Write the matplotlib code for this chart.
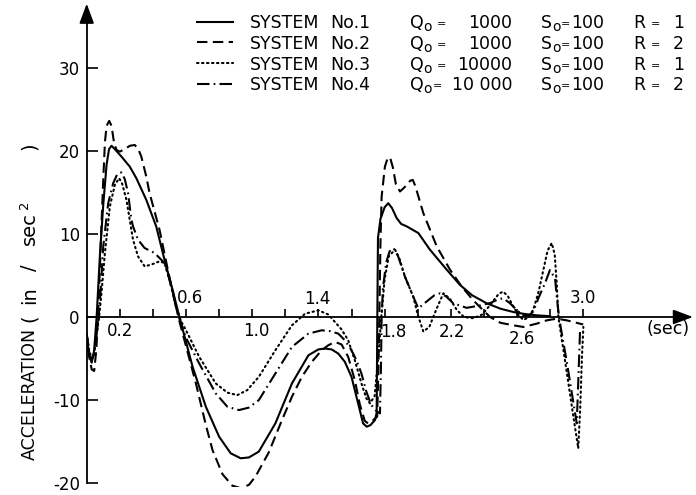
import matplotlib
matplotlib.use("Agg")
import matplotlib.pyplot as plt
from matplotlib.lines import Line2D

plt.rcParams["font.family"] = ["DejaVu Sans"]
plt.rcParams["mathtext.fontset"] = "dejavusans"
plt.rcParams["axes.unicode_minus"] = False

# ---------------- data: acceleration response of four systems ----------------
t1 = [0.00, 0.015, 0.03, 0.045, 0.06, 0.08, 0.10, 0.12, 0.135, 0.15, 0.17, 0.21, 0.26, 0.30, 0.36,
      0.42, 0.47, 0.52, 0.56, 0.60, 0.64, 0.72, 0.80, 0.87, 0.93, 0.98, 1.04, 1.14, 1.24, 1.34,
      1.40, 1.44, 1.48, 1.52, 1.56, 1.60, 1.64, 1.67, 1.692, 1.715, 1.742, 1.752, 1.756, 1.760,
      1.775, 1.80, 1.822, 1.845, 1.873, 1.90, 1.934, 2.004, 2.074, 2.175, 2.256, 2.33, 2.417,
      2.50, 2.578, 2.65, 2.719, 2.80]
a1 = [-2.5, -4.6, -5.5, -4.0, 0.0, 7.5, 13.5, 18.3, 20.2, 20.6, 20.2, 19.3, 18.1, 16.7, 14.1,
      10.9, 6.9, 3.2, 0.0, -3.0, -6.0, -10.8, -14.4, -16.4, -17.0, -16.9, -16.2, -12.8, -8.0, -4.6,
      -3.9, -3.8, -3.9, -4.4, -5.4, -7.2, -10.4, -12.8, -13.2, -13.0, -12.4, -11.5, 0.0, 9.5,
      11.8, 13.2, 13.7, 13.1, 11.9, 11.2, 10.9, 10.1, 8.1, 5.7, 3.85, 2.6, 1.65,
      1.0, 0.6, 0.35, 0.2, 0.1]

t2 = [0.00, 0.015, 0.03, 0.045, 0.058, 0.068, 0.08, 0.09, 0.10, 0.11, 0.12, 0.136, 0.15, 0.165,
      0.18, 0.20, 0.23, 0.26, 0.29, 0.31, 0.33, 0.36, 0.38, 0.44, 0.49, 0.54, 0.56, 0.60, 0.66,
      0.72, 0.76, 0.82, 0.88, 0.93, 0.98, 1.02, 1.10, 1.18, 1.24, 1.30, 1.36, 1.42, 1.46, 1.50,
      1.54, 1.58, 1.62, 1.65, 1.68, 1.70, 1.72, 1.755, 1.763, 1.768, 1.775, 1.782, 1.802, 1.818,
      1.833, 1.85, 1.868, 1.893, 1.92, 1.955, 1.97, 1.985, 2.034, 2.115, 2.195, 2.266, 2.336,
      2.396, 2.437, 2.50, 2.578, 2.638, 2.719, 2.78, 2.84, 2.90, 2.96, 3.00]
a2 = [-2.0, -4.8, -6.3, -6.5, -4.0, 0.0, 6.0, 11.5, 16.5, 21.0, 23.0, 23.6, 23.0, 21.0,
      20.1, 19.9, 20.2, 20.6, 20.7, 20.3, 19.3, 16.9, 14.9, 10.5, 5.7, 1.2, -0.5, -3.5, -8.0,
      -13.0, -16.0, -18.9, -20.3, -20.6, -20.2, -19.2, -16.3, -12.4, -9.6, -7.2, -5.4, -4.0, -3.4, -3.0,
      -3.3, -4.8, -7.6, -10.5, -12.5, -12.8, -12.6, -12.0, -6.0, 0.0, 9.0, 14.5, 18.1, 19.1,
      19.2, 18.0, 16.0, 15.1, 15.6, 16.4, 16.5, 15.8, 12.5, 8.5, 5.7, 3.65, 2.0,
      0.8, 0.0, -0.7, -1.0, -1.2, -0.8, -0.4, -0.2, -0.4, -0.7, -0.9]

t3 = [0.00, 0.015, 0.03, 0.045, 0.06, 0.075, 0.09, 0.11, 0.14, 0.17, 0.196, 0.215, 0.24, 0.26,
      0.28, 0.31, 0.35, 0.39, 0.44, 0.47, 0.50, 0.54, 0.57, 0.60, 0.68, 0.78, 0.85, 0.91, 0.97,
      1.04, 1.14, 1.24, 1.32, 1.40, 1.46, 1.50, 1.54, 1.58, 1.62, 1.66, 1.69, 1.712, 1.74, 1.765,
      1.78, 1.80, 1.825, 1.863, 1.89, 1.923, 1.973, 2.00, 2.034, 2.07, 2.11, 2.155, 2.195, 2.236,
      2.28, 2.336, 2.39, 2.44, 2.49, 2.517, 2.545, 2.578, 2.61, 2.638, 2.665, 2.698, 2.73, 2.759,
      2.785, 2.81, 2.828, 2.84, 2.85, 2.88, 2.91, 2.94, 2.97, 2.982, 2.992, 3.001]
a3 = [-2.0, -4.0, -5.0, -4.5, -2.0, 0.0, 3.0, 7.7, 13.3, 15.9, 16.7, 16.0, 14.1, 11.7,
      9.3, 7.3, 6.1, 6.3, 6.7, 6.5, 4.5, 1.3, -0.5, -1.6, -4.8, -8.0, -9.1, -9.4, -8.8,
      -7.2, -4.0, -1.0, 0.4, 0.8, 0.3, -0.6, -1.5, -2.8, -5.2, -8.0, -9.8, -10.4, -9.5, -4.0,
      0.0, 4.5, 7.3, 8.1, 7.0, 4.85, 2.45, 0.3, -1.75, -1.2, 0.8, 2.85, 2.2, 0.85,
      0.0, -0.15, 0.3, 1.5, 2.8, 3.05, 2.5, 1.25, 0.2, -0.35, -0.1, 0.85, 3.0, 5.65,
      8.0, 8.9, 7.5, 4.0, 0.0, -3.9, -7.9, -11.9, -15.8, -11.0, -5.0, -1.2]

t4 = [0.00, 0.015, 0.03, 0.045, 0.06, 0.072, 0.085, 0.10, 0.13, 0.16, 0.185, 0.21, 0.23, 0.25,
      0.27, 0.28, 0.31, 0.35, 0.41, 0.45, 0.47, 0.50, 0.54, 0.565, 0.60, 0.68, 0.78, 0.85, 0.92,
      0.98, 1.04, 1.14, 1.24, 1.34, 1.42, 1.47, 1.52, 1.56, 1.60, 1.63, 1.66, 1.69, 1.72, 1.75,
      1.772, 1.778, 1.782, 1.79, 1.81, 1.83, 1.853, 1.88, 1.923, 1.973, 2.004, 2.05, 2.10, 2.135,
      2.17, 2.215, 2.296, 2.38, 2.44, 2.49, 2.517, 2.555, 2.598, 2.638, 2.67, 2.698, 2.729, 2.769,
      2.799, 2.83, 2.84, 2.856, 2.90, 2.93, 2.961, 2.968, 2.975, 2.981]
a4 = [-2.0, -4.2, -5.2, -4.5, -2.0, 0.0, 3.5, 8.5, 13.7, 16.1, 17.2, 17.4, 16.6, 14.9,
      11.7, 10.9, 9.3, 8.3, 7.7, 6.9, 6.5, 4.5, 1.2, -0.5, -2.5, -5.6, -9.2, -10.8, -11.2,
      -10.9, -10.0, -6.8, -3.6, -2.0, -1.6, -1.7, -2.0, -2.8, -4.0, -5.2, -6.8, -9.0, -10.6, -11.3,
      -11.6, -6.0, 0.0, 3.5, 6.6, 7.9, 8.3, 7.4, 4.85, 2.45, 1.05, 1.8, 2.6, 2.85,
      2.5, 1.65, 1.1, 1.4, 1.7, 2.15, 2.25, 1.7, 0.85, 0.2, 0.15, 0.65, 2.25, 4.05,
      5.65, 4.65, 2.45, -0.3, -5.3, -9.0, -12.8, -9.0, -5.0, -1.6]

system_names = ["No.1", "No.2", "No.3", "No.4"]
q_values = ["1000", "1000", "10000", "10 000"]
s_values = ["100", "100", "100", "100"]
r_values = ["1", "2", "1", "2"]

y_ticks = [-20, -10, 0, 10, 20, 30]
y_tick_labels = ["-20", "-10", "0", "10", "20", "30"]
x_ticks = [0.2, 0.4, 0.6, 0.8, 1.0, 1.2, 1.4, 1.6, 1.8, 2.0, 2.2, 2.4, 2.6, 2.8, 3.0]
x_labelled = [0.2, 0.6, 1.0, 1.4, 1.8, 2.2, 2.6, 3.0]
x_labels = ["0.2", "0.6", "1.0", "1.4", "1.8", "2.2", "2.6", "3.0"]

# ---------------- styling ----------------
LW = 1.5
styles = [
    dict(linestyle="-"),
    dict(linestyle=(0, (5.0, 2.6))),
    dict(linestyle=(0, (0.7, 1.7)), dash_capstyle="round"),
    dict(linestyle=(0, (6.0, 2.0, 0.8, 2.0))),
]
# label offsets (pixels) from tick position on the zero line
x_label_offsets = [(0, -14), (4, 19), (4, -14), (-1, 18), (9, -15), (1, -15), (5, -22), (0, 19)]

W, H = 696, 495
fig = plt.figure(figsize=(W / 100, H / 100), dpi=100)

x0_px, px_per_s = 86.7, 165.5
y0_px, px_per_unit = 317.0, 8.31
right_px = 694.0
ymin, ymax = -20.5, 38.0
top_px = y0_px - ymax * px_per_unit
bot_px = y0_px - ymin * px_per_unit
ax = fig.add_axes([x0_px / W, 1 - bot_px / H, (right_px - x0_px) / W, (bot_px - top_px) / H])
ax.set_xlim(0, (right_px - x0_px) / px_per_s)
ax.set_ylim(ymin, ymax)
ax.patch.set_visible(False)

for (t, a), st in zip([(t1, a1), (t2, a2), (t3, a3), (t4, a4)], styles):
    ax.plot(t, a, color="black", lw=LW, **st)

# axes through the origin, with arrow heads
for s in ["top", "right"]:
    ax.spines[s].set_visible(False)
ax.spines["left"].set_position(("data", 0))
ax.spines["bottom"].set_position(("data", 0))
ax.spines["left"].set_bounds(-20, 36.5)
ax.spines["bottom"].set_bounds(0, 3.58)
for s in ["left", "bottom"]:
    ax.spines[s].set_linewidth(1.3)

arrow = dict(arrowstyle="-|>,head_length=0.75,head_width=0.28", color="black",
             lw=1.3, mutation_scale=16, shrinkA=0, shrinkB=0)
ax.annotate("", xy=(0, 37.7), xytext=(0, 36.0), arrowprops=arrow, annotation_clip=False)
ax.annotate("", xy=(3.663, 0), xytext=(3.56, 0), arrowprops=arrow, annotation_clip=False)

ax.set_yticks(y_ticks)
ax.set_yticklabels(y_tick_labels)
ax.set_xticks(x_ticks)
ax.tick_params(axis="y", direction="in", length=8, width=1.2, labelsize=12, pad=5)
ax.tick_params(axis="x", direction="in", length=5.5, width=1.2, labelbottom=False)

for v, lab, (dx, dy) in zip(x_labelled, x_labels, x_label_offsets):
    ax.annotate(lab, xy=(v, 0), xytext=(dx, dy), textcoords="offset pixels",
                ha="center", va="center", fontsize=12)
ax.annotate("(sec)", xy=(3.51, 0), xytext=(0, -12), textcoords="offset pixels",
            ha="center", va="center", fontsize=12.5)


def fig_px(x, y):
    return x / W, 1 - y / H


# vertical axis title, lettered with wide spacing along the axis
ylabel_parts = [("ACCELERATION", 394, 12.5, 35), ("(", 318, 14, 35), ("in", 295, 14, 35),
                ("/", 268, 14, 35), ("sec", 229, 14, 35), ("2", 205, 9.5, 28), (")", 146, 14, 35)]
for txt, yc, size, xb in ylabel_parts:
    fig.text(*fig_px(xb, yc), txt, rotation=90, rotation_mode="anchor",
             ha="center", va="baseline", fontsize=size)

# key in the upper right
baselines = [28.3, 48.8, 69.6, 90.0]
eq_q_x = [441, 441, 441, 437]
fs = 12.5
for i in range(4):
    yb = baselines[i]
    yc = yb - 6.5
    fig.add_artist(Line2D([197 / W, 233 / W], [1 - yc / H] * 2, transform=fig.transFigure,
                          color="black", lw=LW, **styles[i]))
    fig.text(*fig_px(250, yb), "SYSTEM", fontsize=fs, va="baseline", ha="left")
    fig.text(*fig_px(330, yb), system_names[i], fontsize=fs, va="baseline", ha="left")
    fig.text(*fig_px(410, yb), "Q", fontsize=fs, va="baseline", ha="left")
    fig.text(*fig_px(423.5, yb + 3), "o", fontsize=10, va="baseline", ha="left")
    fig.text(*fig_px(eq_q_x[i], yb - 1), "=", fontsize=8, va="baseline", ha="center")
    fig.text(*fig_px(512, yb), q_values[i], fontsize=fs, va="baseline", ha="right")
    fig.text(*fig_px(541, yb), "S", fontsize=fs, va="baseline", ha="left")
    fig.text(*fig_px(552.5, yb + 3), "o", fontsize=10, va="baseline", ha="left")
    fig.text(*fig_px(565.5, yb - 1), "=", fontsize=8, va="baseline", ha="center")
    fig.text(*fig_px(571, yb), s_values[i], fontsize=fs, va="baseline", ha="left")
    fig.text(*fig_px(633, yb), "R", fontsize=fs, va="baseline", ha="left")
    fig.text(*fig_px(655, yb - 1), "=", fontsize=8, va="baseline", ha="center")
    fig.text(*fig_px(673, yb), r_values[i], fontsize=fs, va="baseline", ha="left")

fig.savefig("out.png", dpi=100)
